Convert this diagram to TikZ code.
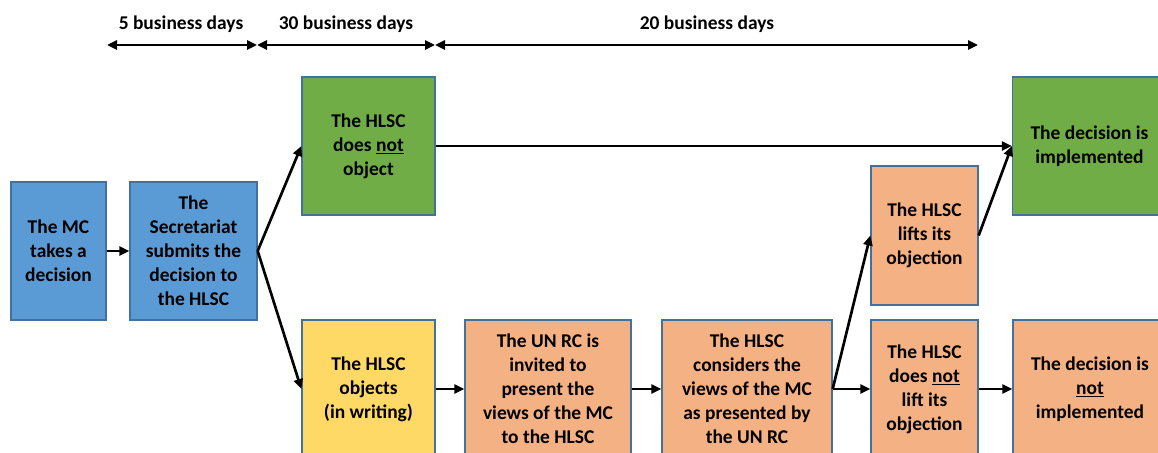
\documentclass[tikz,border=0pt]{standalone}
\usepackage{fontspec}
\setmainfont{Carlito}
\usetikzlibrary{arrows.meta}
\definecolor{bluefill}{HTML}{5B9BD5}
\definecolor{greenfill}{HTML}{70AD47}
\definecolor{yellowfill}{HTML}{FFD966}
\definecolor{orangefill}{HTML}{F4B183}
\definecolor{boxline}{HTML}{41719C}
\begin{document}
\begin{tikzpicture}[x=0.75pt, y=-0.75pt,
  box/.style={draw=boxline, line width=1pt, inner sep=0pt, align=center,
    font=\fontsize{14.6}{18}\selectfont\bfseries, text=black},
  bluebox/.style={box, fill=bluefill},
  greenbox/.style={box, fill=greenfill},
  yellowbox/.style={box, fill=yellowfill},
  orangebox/.style={box, fill=orangefill},
  flow/.style={line width=2pt, -{Triangle[length=7.5pt,width=6.8pt]}},
  span/.style={line width=2pt, {Triangle[length=7.5pt,width=6.8pt]}-{Triangle[length=7.5pt,width=6.8pt]}},
  spanlabel/.style={font=\fontsize{14.6}{18}\selectfont\bfseries, inner sep=0pt}]
\useasboundingbox (0,0) rectangle (1158,453);
\clip (0,0) rectangle (1158,453);

% time spans
\coordinate (t0) at (107,45);
\coordinate (t1) at (257,45);
\coordinate (t2) at (435,45);
\coordinate (t3) at (978,45);
\draw[span] (t0) -- (t1);
\draw[span] (t1) -- (t2);
\draw[span] (t2) -- (t3);
\node[spanlabel] (l5) at (181,24) {5 business days};
\node[spanlabel] (l30) at (346,24) {30 business days};
\node[spanlabel] (l20) at (707,24) {20 business days};

% decision boxes
\node[bluebox, minimum width=71.25pt, minimum height=103.5pt] (mc) at (58.5,251)
  {The MC\\takes a\\decision};
\node[bluebox, minimum width=95.25pt, minimum height=103.5pt] (sec) at (193.5,251)
  {The\\Secretariat\\submits the\\decision to\\the HLSC};
\node[greenbox, minimum width=99.75pt, minimum height=103.5pt] (noobj) at (368.5,146)
  {The HLSC\\does \underline{not}\\object};
\node[yellowbox, minimum width=99.75pt, minimum height=103.5pt] (obj) at (368.5,389)
  {The HLSC\\objects\\(in writing)};
\node[orangebox, minimum width=124.5pt, minimum height=103.5pt] (rc) at (548,389)
  {The UN RC is\\invited to\\present the\\views of the MC\\to the HLSC};
\node[orangebox, minimum width=127.5pt, minimum height=103.5pt] (cons) at (747,389)
  {The HLSC\\considers the\\views of the MC\\as presented by\\the UN RC};
\node[orangebox, minimum width=80.25pt, minimum height=104.25pt] (lift) at (924.5,235.5)
  {The HLSC\\lifts its\\objection};
\node[orangebox, minimum width=80.25pt, minimum height=103.5pt] (nolift) at (924.5,389)
  {The HLSC\\does \underline{not}\\lift its\\objection};
\node[greenbox, minimum width=115.5pt, minimum height=103.5pt] (impl) at (1089.5,146)
  {The decision is\\implemented};
\node[orangebox, minimum width=115.5pt, minimum height=103.5pt] (notimpl) at (1090,389)
  {The decision is\\\underline{not}\\implemented};

% flow
\draw[flow] (mc.east) -- (sec.west);
\draw[flow] (sec.east) -- (noobj.west);
\draw[flow] (sec.east) -- (obj.west);
\draw[flow] (noobj.east) -- (impl.west);
\draw[flow] (obj.east) -- (rc.west);
\draw[flow] (rc.east) -- (cons.west);
\draw[flow] (cons.east) -- (lift.west);
\draw[flow] (cons.east) -- (nolift.west);
\draw[flow] (lift.east) -- (impl.west);
\draw[flow] (nolift.east) -- (notimpl.west);
\end{tikzpicture}
\end{document}
